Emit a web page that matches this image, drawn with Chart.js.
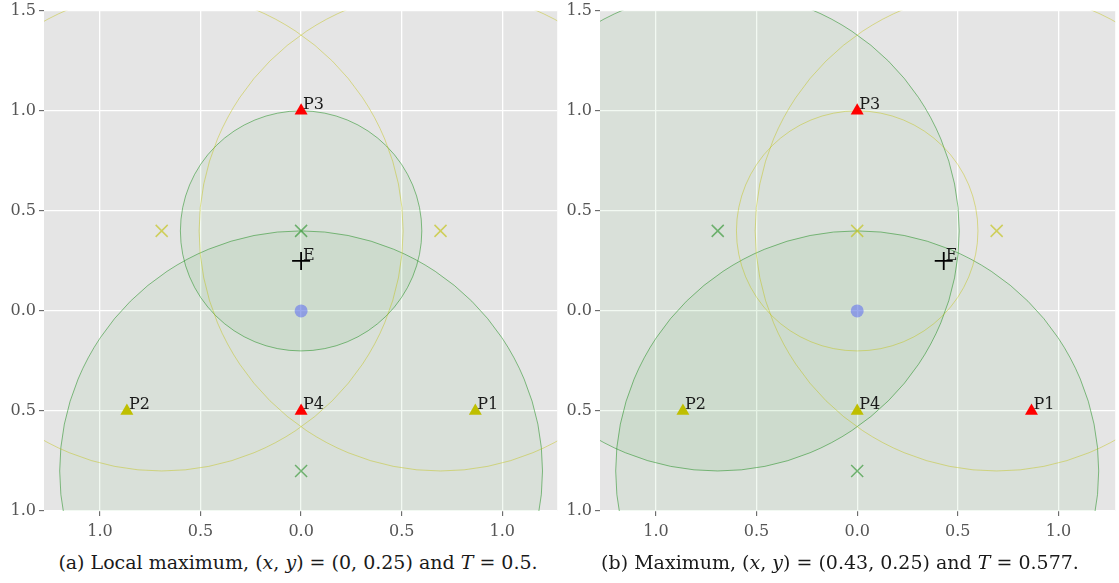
<!DOCTYPE html>
<html>
<head>
<meta charset="utf-8">
<script src="https://cdn.jsdelivr.net/npm/chart.js@4.4.0/dist/chart.umd.min.js"></script>
<style>
  html, body { margin: 0; padding: 0; background: #ffffff; }
  body { width: 1119px; height: 583px; position: relative; overflow: hidden; }
  canvas { position: absolute; top: 0; }
  #ca { left: 0px; }
  #cb { left: 556px; }
  .cap { position: absolute; top: 550px; font-family: "DejaVu Serif", "Liberation Serif", serif; font-size: 19px; line-height: 24px; color: #1a1a1a; white-space: nowrap; transform: translateX(-50%); }
</style>
</head>
<body>
<canvas id="ca" width="568" height="545"></canvas>
<canvas id="cb" width="570" height="545"></canvas>
<div class="cap" style="left:298px">(a) Local maximum, (<i>x</i>, <i>y</i>) = (0, 0.25) and <i>T</i> = 0.5.</div>
<div class="cap" style="left:840px">(b) Maximum, (<i>x</i>, <i>y</i>) = (0.43, 0.25) and <i>T</i> = 0.577.</div>
<script>
// ---------- data ----------
const xTickValues = [-1, -0.5, 0, 0.5, 1];
const xTickLabels = ['1.0', '0.5', '0.0', '0.5', '1.0'];
const yTickValues = [-1, -0.5, 0, 0.5, 1, 1.5];
const yTickLabels = ['1.0', '0.5', '0.0', '0.5', '1.0', '1.5'];

const pointNames = ['P1', 'P2', 'P3', 'P4'];
const pointX = [0.866, -0.866, 0, 0];
const pointY = [-0.5, -0.5, 1, -0.5];
const pointKindA = ['y', 'y', 'r', 'r'];
const pointKindB = ['r', 'y', 'r', 'y'];

const originX = [0];
const originY = [0];

const estXA = [0];
const estYA = [0.25];
const estXB = [0.43];
const estYB = [0.25];

// circles panel (a)
const greenCxA = [0, 0];
const greenCyA = [0.4, -0.8];
const greenRA = [0.6, 1.2];
const yellowCxA = [-0.693, 0.693];
const yellowCyA = [0.4, 0.4];
const yellowRA = [1.2, 1.2];

// circles panel (b)
const greenCxB = [-0.693, 0];
const greenCyB = [0.4, -0.8];
const greenRB = [1.2, 1.2];
const yellowCxB = [0, 0.693];
const yellowCyB = [0.4, 0.4];
const yellowRB = [0.6, 1.2];

// ---------- styles ----------
const FONT = '"DejaVu Serif", "Liberation Serif", serif';
const RED = '#ff0000';
const YEL = '#bfbf00';
Chart.defaults.font.family = FONT;

function zip(xs, ys) { return xs.map((x, i) => ({ x: x, y: ys[i] })); }

const bgPlugin = {
  id: 'bg',
  beforeDraw(chart) {
    const a = chart.chartArea, ctx = chart.ctx;
    ctx.save();
    ctx.fillStyle = '#e5e5e5';
    ctx.fillRect(a.left, a.top, a.right - a.left, a.bottom - a.top);
    ctx.restore();
  }
};

const circlePlugin = {
  id: 'circles',
  beforeDatasetsDraw(chart) {
    const cfg = chart.options.plugins.circles;
    const xs = chart.scales.x, ys = chart.scales.y, a = chart.chartArea, ctx = chart.ctx;
    ctx.save();
    ctx.beginPath();
    ctx.rect(a.left, a.top, a.right - a.left, a.bottom - a.top);
    ctx.clip();
    cfg.groups.forEach(g => {
      g.cx.forEach((cx, i) => {
        const cy = g.cy[i], r = g.r[i];
        const px = xs.getPixelForValue(cx), py = ys.getPixelForValue(cy);
        const rx = xs.getPixelForValue(cx + r) - px;
        const ry = py - ys.getPixelForValue(cy + r);
        ctx.beginPath();
        ctx.ellipse(px, py, rx, ry, 0, 0, Math.PI * 2);
        if (g.fill) { ctx.fillStyle = g.fill; ctx.fill(); }
        ctx.strokeStyle = g.stroke;
        ctx.lineWidth = 1;
        ctx.stroke();
      });
    });
    ctx.restore();
  }
};

const labelPlugin = {
  id: 'labels',
  afterDatasetsDraw(chart) {
    const cfg = chart.options.plugins.labels;
    const xs = chart.scales.x, ys = chart.scales.y, ctx = chart.ctx;
    ctx.save();
    ctx.font = '16px ' + FONT;
    ctx.fillStyle = '#1a1a1a';
    ctx.textAlign = 'left';
    ctx.textBaseline = 'alphabetic';
    cfg.items.forEach(it => {
      ctx.fillText(it.text, xs.getPixelForValue(it.x) + 2, ys.getPixelForValue(it.y) - it.dy);
    });
    ctx.restore();
  }
};

function makeChart(id, opts) {
  const kinds = opts.kinds;
  const tri = (k) => ({
    data: zip(pointX.filter((_, i) => kinds[i] === k), pointY.filter((_, i) => kinds[i] === k)),
    pointStyle: 'triangle', pointRadius: 7.5, backgroundColor: k === 'r' ? RED : YEL,
    borderColor: k === 'r' ? RED : YEL, borderWidth: 0
  });
  const labels = pointNames.map((n, i) => ({ text: n, x: pointX[i], y: pointY[i], dy: 2 }));
  labels.push({ text: 'E', x: opts.estX[0], y: opts.estY[0], dy: 1 });

  return new Chart(document.getElementById(id), {
    type: 'scatter',
    data: {
      datasets: [
        { data: zip(originX, originY), pointStyle: 'circle', pointRadius: 6.5,
          backgroundColor: 'rgba(80,95,245,0.5)', borderWidth: 0 },
        { data: zip(opts.green.cx, opts.green.cy), pointStyle: 'crossRot', pointRadius: 8.5,
          borderColor: 'rgba(0,128,0,0.5)', borderWidth: 1.5, backgroundColor: 'transparent' },
        { data: zip(opts.yellow.cx, opts.yellow.cy), pointStyle: 'crossRot', pointRadius: 8.5,
          borderColor: 'rgba(191,191,0,0.6)', borderWidth: 1.5, backgroundColor: 'transparent' },
        tri('y'),
        tri('r'),
        { data: zip(opts.estX, opts.estY), pointStyle: 'cross', pointRadius: 9,
          borderColor: '#000000', borderWidth: 1.8, backgroundColor: 'transparent' }
      ]
    },
    options: {
      responsive: false,
      animation: false,
      devicePixelRatio: 1,
      events: [],
      layout: { padding: { top: 0, right: opts.padRight, left: 0, bottom: 0 } },
      plugins: {
        legend: { display: false },
        tooltip: { enabled: false },
        circles: {
          groups: [
            { cx: opts.green.cx, cy: opts.green.cy, r: opts.green.r, fill: 'rgba(0,128,0,0.05)', stroke: 'rgba(0,128,0,0.45)' },
            { cx: opts.yellow.cx, cy: opts.yellow.cy, r: opts.yellow.r, fill: null, stroke: 'rgba(191,191,0,0.42)' }
          ]
        },
        labels: { items: labels }
      },
      scales: {
        x: {
          type: 'linear', min: -1.278, max: opts.xMax,
          afterBuildTicks: s => { s.ticks = xTickValues.map(v => ({ value: v })); },
          afterFit: s => { s.height = 34; },
          ticks: { callback: (v, i) => xTickLabels[i], font: { family: FONT, size: 16 }, color: '#555555', padding: 6, maxRotation: 0 },
          grid: { color: '#ffffff', lineWidth: 1.3, tickColor: '#555555', tickLength: 5, tickWidth: 1 },
          border: { display: false }
        },
        y: {
          type: 'linear', min: -1, max: 1.5,
          afterBuildTicks: s => { s.ticks = yTickValues.map(v => ({ value: v })); },
          afterFit: s => { s.width = 44; s.paddingTop = 10; },
          ticks: { callback: (v, i) => yTickLabels[i], font: { family: FONT, size: 16 }, color: '#555555', padding: 3 },
          grid: { color: '#ffffff', lineWidth: 1.3, tickColor: '#555555', tickLength: 5, tickWidth: 1 },
          border: { display: false }
        }
      }
    },
    plugins: [bgPlugin, circlePlugin, labelPlugin]
  });
}

function build() {
  makeChart('ca', {
    kinds: pointKindA, estX: estXA, estY: estYA, padRight: 3, xMax: 1.273,
    green: { cx: greenCxA, cy: greenCyA, r: greenRA },
    yellow: { cx: yellowCxA, cy: yellowCyA, r: yellowRA }
  });
  makeChart('cb', {
    kinds: pointKindB, estX: estXB, estY: estYB, padRight: 4, xMax: 1.282,
    green: { cx: greenCxB, cy: greenCyB, r: greenRB },
    yellow: { cx: yellowCxB, cy: yellowCyB, r: yellowRB }
  });
}

Promise.all([
  document.fonts.load('15px "DejaVu Serif"'),
  document.fonts.load('16px "DejaVu Serif"')
]).then(build, build);
</script>
</body>
</html>
